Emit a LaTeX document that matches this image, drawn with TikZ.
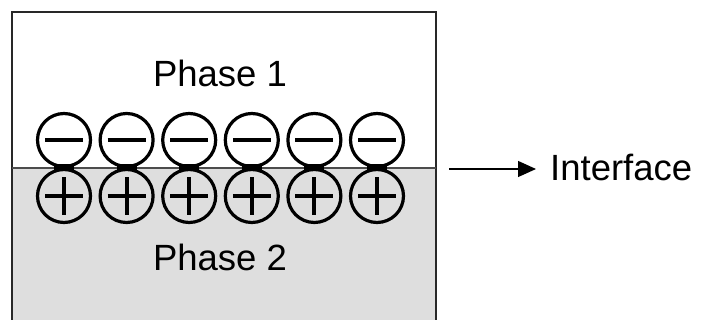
\documentclass[tikz,border=0pt]{standalone}
\usepackage{fontspec}
\setmainfont{Liberation Sans}
\usetikzlibrary{arrows.meta}
\definecolor{phasegray}{RGB}{222,222,222}
\definecolor{edgegray}{RGB}{40,40,40}
\begin{document}
\begin{tikzpicture}[x=1pt,y=-1pt,
  ion/.style={circle,draw=black,fill=none,line width=3.2pt,minimum size=53pt,inner sep=0pt},
  lbl/.style={font=\fontsize{36.5}{40}\selectfont,inner sep=0pt,anchor=base},
  bar/.style={line width=4pt,line cap=butt},
  link/.style={line width=6pt,line cap=butt}]
\useasboundingbox (0,0) rectangle (702,320);
\begin{scope}
\clip (0,0) rectangle (702,320);
\fill[phasegray] (12,168) rectangle (436,330);
\draw[line width=2pt,edgegray] (12,330) -- (12,12) -- (436,12) -- (436,330);
\draw[line width=1.2pt,black!70] (12,168) -- (436,168);
\end{scope}
\node[lbl] (p1) at (220,87) {Phase 1};
\node[lbl] (p2) at (220,271) {Phase 2};
\foreach \i in {0,...,5}{
  \pgfmathsetmacro{\cx}{64+62.6*\i}
  \node[ion] (m\i) at (\cx,140) {};
  \node[ion] (q\i) at (\cx,196) {};
  \draw[bar] ([xshift=-19pt]m\i.center) -- ([xshift=19pt]m\i.center);
  \draw[bar] ([xshift=-19pt]q\i.center) -- ([xshift=19pt]q\i.center);
  \draw[bar] ([yshift=-19pt]q\i.center) -- ([yshift=19pt]q\i.center);
  \draw[link] ([xshift=-10pt,yshift=1pt]m\i.south) -- ([xshift=10pt,yshift=1pt]m\i.south);
  \draw[link,line width=20pt] (m\i.south) -- (q\i.north);
}
\coordinate (a0) at (449,169);
\coordinate (a1) at (536,169);
\node[lbl,anchor=base west] (itf) at (550,181) {Interface};
\draw[line width=1.2pt,-{Triangle[length=18pt,width=16pt]}] (a0) -- (a1);
\end{tikzpicture}
\end{document}
